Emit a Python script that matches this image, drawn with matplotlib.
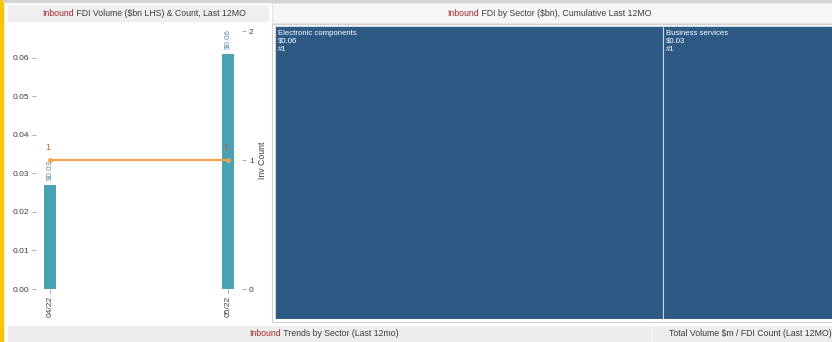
import matplotlib.pyplot as plt
from matplotlib.patches import Rectangle

plt.rcParams['font.family'] = ['Liberation Sans', 'DejaVu Sans']

# data
months = ['04/22', '05/22']
volume = [0.027, 0.061]
volume_labels = ['$0.03', '$0.06']
counts = [1, 1]

sectors = ['Electronic components', 'Business services']
sector_volume = [0.06, 0.03]
sector_labels = ['$0.06', '$0.03']
sector_counts = [1, 1]

W, H = 832, 342
red = '#a3242b'
grey_txt = '#3c3c3c'


def px(x0, y0, x1, y1):
    return [x0 / W, 1 - y1 / H, (x1 - x0) / W, (y1 - y0) / H]


fig = plt.figure(figsize=(W / 100, H / 100), dpi=100)
fig.set_facecolor('white')

# background / frame
bg = fig.add_axes([0, 0, 1, 1])
bg.set_xlim(0, W)
bg.set_ylim(H, 0)
bg.axis('off')
bg.add_patch(Rectangle((0, 0), 3, H, color='#f6c400'))
bg.add_patch(Rectangle((3, 0), W, 2, color='#d4d4d4'))
bg.add_patch(Rectangle((8, 5), 260, 16, color='#efefef'))
bg.add_patch(Rectangle((272, 3), W - 272, 20, facecolor='#f7f7f7', edgecolor='#e2e2e2', lw=0.6))
bg.add_patch(Rectangle((8, 326), 642, 16, color='#eeeeee'))
bg.add_patch(Rectangle((652, 326), W - 652, 16, color='#eeeeee'))
bg.add_patch(Rectangle((272, 24), W - 272, 298, facecolor='white', edgecolor='#cfcfcf', lw=0.8))


def header(x, y, rest):
    t = bg.text(x, y, 'Inbound', color=red, fontsize=6.3, va='center', ha='left')
    bg.annotate(' ' + rest, xy=(1, 0), xycoords=t, va='bottom', ha='left',
                color=grey_txt, fontsize=6.3)


header(42, 13, 'FDI Volume ($bn LHS) & Count, Last 12MO')
header(447, 13, 'FDI by Sector ($bn), Cumulative Last 12MO')
header(249, 334, 'Trends by Sector (Last 12mo)')
bg.text(750, 334, 'Total Volume $m / FDI Count (Last 12MO)', color=grey_txt,
        fontsize=6.3, va='center', ha='center')

# left combo chart
ax = fig.add_axes(px(36, 31, 242, 289))
x = list(range(len(months)))
ax.bar(x, volume, width=0.068, color='#49a2b4')
for xi, v, lab in zip(x, volume, volume_labels):
    ax.text(xi, v + 0.0012, lab, rotation=90, ha='center', va='bottom',
            fontsize=5.8, color='#5c87a8')
ax.set_xlim(-0.079, 1.079)
ax.set_ylim(0, 0.067)
ax.set_yticks([0, 0.01, 0.02, 0.03, 0.04, 0.05, 0.06])
ax.set_yticklabels(['0.00', '0.01', '0.02', '0.03', '0.04', '0.05', '0.06'])
ax.set_xticks(x)
ax.set_xticklabels(months, rotation=90)
ax.tick_params(axis='both', labelsize=6, colors='#9a9a9a', labelcolor=grey_txt,
               length=3, width=0.6, pad=2)
for s in ax.spines.values():
    s.set_visible(False)
ax.patch.set_alpha(0)

ax2 = ax.twinx()
ax2.plot(x, counts, color='#f4a24e', lw=1.6, marker='o', ms=2.5)
for xi, c in zip(x, counts):
    ax2.text(xi - 0.01, c + 0.06, str(c), ha='center', va='bottom',
             fontsize=6.5, color='#c0623a')
ax2.set_ylim(0, 2)
ax2.set_yticks([0, 1, 2])
ax2.tick_params(axis='y', labelsize=6, colors='#9a9a9a', labelcolor=grey_txt,
                length=3, width=0.6, pad=2)
ax2.set_ylabel('Inv Count', fontsize=6.3, color=grey_txt, labelpad=3)
for s in ax2.spines.values():
    s.set_visible(False)

# treemap (slice layout, runs past the right edge)
tm = fig.add_axes(px(275, 26, 857, 319))
tm.set_xlim(0, 1)
tm.set_ylim(1, 0)
tm.axis('off')
total = sum(sector_volume)
left = 0
for name, v, lab, c in zip(sectors, sector_volume, sector_labels, sector_counts):
    w = v / total
    tm.add_patch(Rectangle((left, 0), w, 1, facecolor='#2c5a84',
                           edgecolor='#c9d3de', lw=0.8))
    tm.text(left + 0.005, 0.012, f'{name}\n{lab}\n#{c}', ha='left', va='top',
            fontsize=5.6, color='white', linespacing=1.25)
    left += w

fig.savefig('out.png', dpi=100)
